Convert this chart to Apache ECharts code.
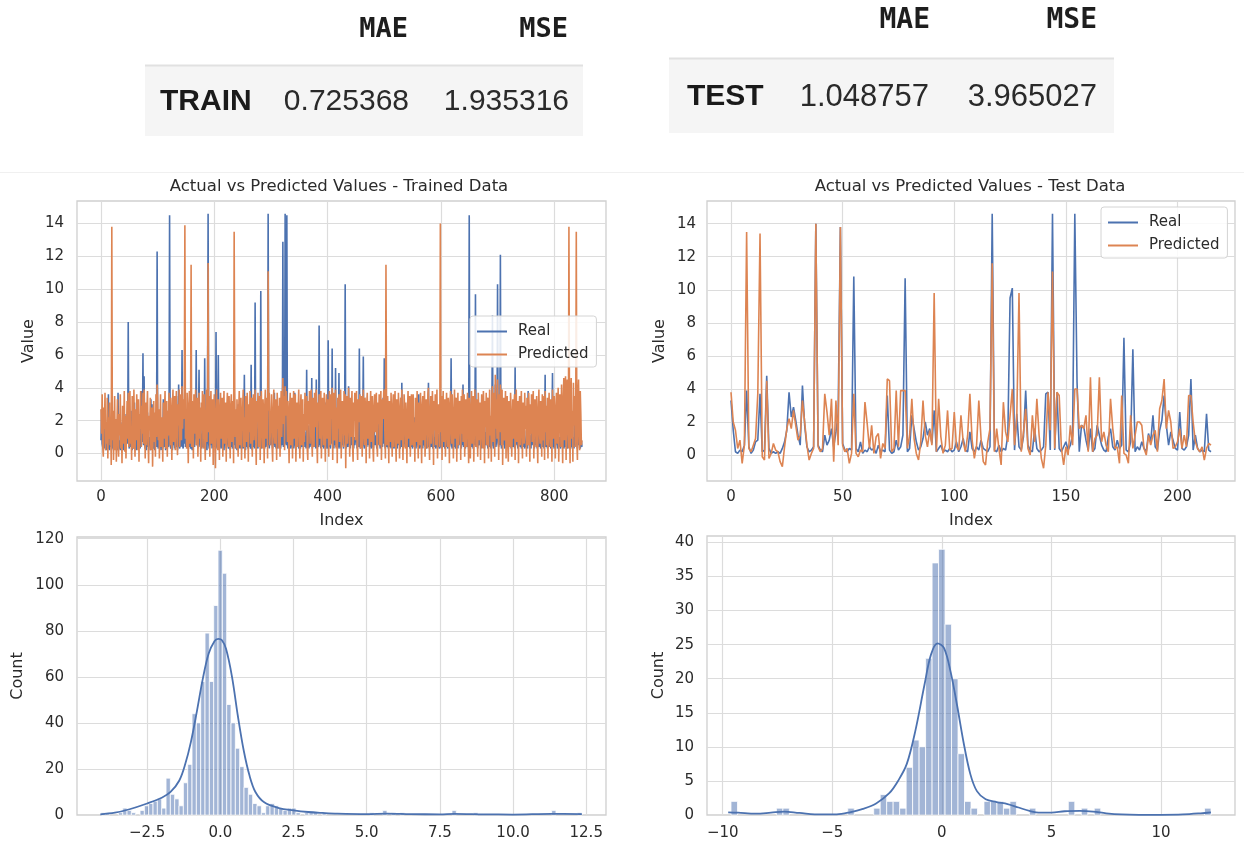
<!DOCTYPE html>
<html>
<head>
<meta charset="utf-8">
<script src="https://cdn.jsdelivr.net/npm/echarts@6.0.0/dist/echarts.min.js"></script>
<style>
  html, body { margin: 0; padding: 0; background: #ffffff; }
  #chart { width: 1244px; height: 848px; }
</style>
</head>
<body>
<div id="chart"></div>
<script>
// ---- error metrics ----
const metricNames = ['MAE', 'MSE'];
const trainMetrics = ['0.725368', '1.935316'];
const testMetrics = ['1.048757', '3.965027'];

// ---- actual vs predicted, training rows (index 0..849) ----
const trainReal = [
0.8,2.7,0.6,0.4,1.2,0.3,0.5,2.2,0.4,0.2,1.1,0.6,0.3,3.6,0.5,0.2,0.9,0.4,1.6,1.2,0.3,0.5,0.2,2.1,0.7,0.4,0.3,1.4,0.6,0.2,3.7,0.5,0.3,0.8,0.2,1.9,0.4,0.6,0.3,1.1,0.2,0.5,2.4,0.7,0.3,0.4,1.3,0.6,8.0,0.5,
0.3,0.9,0.4,2.6,0.6,0.2,1.5,0.5,0.3,3.1,0.8,0.4,0.2,1.2,0.6,0.3,2.2,0.5,0.9,0.3,1.6,0.4,3.8,0.7,6.1,0.5,4.7,0.6,0.3,1.4,0.2,0.8,2.5,0.4,0.3,1.0,0.6,0.2,3.3,0.5,3.0,0.7,0.3,1.2,0.4,0.2,2.0,0.6,0.4,12.3,
0.6,0.3,1.1,0.4,2.3,0.5,0.2,1.7,0.8,0.3,3.3,0.4,0.6,1.2,0.2,0.5,2.6,0.3,0.9,0.4,1.3,14.5,0.6,0.3,1.5,0.4,0.2,2.1,0.5,0.8,0.3,1.1,0.4,3.5,0.6,0.2,0.9,4.2,0.5,0.3,1.6,0.4,0.7,6.3,0.5,0.3,2.4,0.6,4.2,0.4,
0.5,1.3,0.3,2.2,0.6,0.4,3.1,0.7,0.3,1.9,0.5,0.2,1.1,0.6,2.8,0.4,0.3,1.4,6.3,0.5,0.8,0.3,2.0,5.1,0.6,0.4,1.2,0.3,0.7,2.5,0.4,0.9,0.3,5.8,0.5,1.6,0.4,0.2,3.4,14.6,0.6,0.3,1.0,0.5,0.4,2.1,0.3,0.8,0.5,1.5,
0.4,1.2,0.6,7.4,0.5,0.3,1.8,6.0,0.4,0.7,2.3,0.5,0.3,1.1,0.4,3.2,0.6,0.2,0.9,0.5,1.6,0.3,0.4,2.7,0.6,0.3,1.0,0.5,0.2,1.9,0.4,0.7,0.3,1.3,0.5,0.6,2.4,0.3,0.5,1.1,0.2,0.6,3.0,0.4,0.8,0.3,1.5,0.5,0.3,2.2,
0.6,0.3,1.4,4.8,0.5,0.2,1.0,0.4,2.6,0.3,0.7,0.4,1.8,0.5,0.3,5.4,0.6,0.2,1.2,0.4,0.8,0.3,9.2,0.5,0.4,2.3,0.6,0.3,1.5,0.4,0.9,0.5,9.9,0.3,0.6,1.7,0.4,2.8,0.5,0.3,1.1,0.4,0.6,2.2,0.5,14.6,0.8,0.3,1.6,0.5,
0.4,1.3,0.6,0.3,2.1,0.5,3.7,0.4,0.8,0.3,1.5,0.5,0.3,2.4,0.6,0.4,1.0,0.3,0.7,1.9,0.5,12.9,0.4,1.2,0.6,14.6,0.8,0.5,14.5,0.6,0.3,1.6,0.4,0.7,2.5,0.3,0.5,1.1,0.4,0.9,0.3,1.4,3.7,0.5,0.2,1.8,0.6,0.4,1.2,0.3,
0.5,1.1,0.3,0.7,2.0,0.4,0.3,1.4,0.6,1.3,0.4,0.8,0.3,5.1,0.5,0.6,1.7,0.3,0.9,0.4,2.2,0.5,4.6,0.3,0.6,1.2,0.4,0.8,2.7,0.3,4.5,0.6,0.3,1.5,0.4,7.8,0.5,0.9,0.3,1.8,0.4,0.6,2.3,0.3,0.5,1.2,0.4,3.1,0.6,0.3,
0.6,6.9,0.4,1.3,0.5,0.3,2.2,0.6,6.4,0.4,0.8,0.3,1.6,0.5,5.2,0.4,0.7,1.1,0.3,0.5,4.9,0.6,0.3,1.9,0.4,0.8,0.5,2.6,0.3,0.6,1.2,10.3,0.5,0.3,1.5,0.6,0.4,4.1,0.5,0.9,0.3,1.7,0.5,0.4,2.4,0.6,0.3,1.0,0.5,0.4,
0.5,1.4,0.3,0.7,2.1,0.4,6.4,0.5,0.3,1.2,0.6,0.4,1.8,5.9,0.5,0.3,1.0,0.6,2.4,0.4,0.3,1.3,0.5,0.8,0.4,2.0,0.6,0.3,1.5,0.4,0.9,0.3,2.6,0.5,0.4,1.1,0.6,0.3,1.7,0.5,0.4,2.2,0.6,0.3,1.3,0.5,0.8,0.4,3.4,0.6,
5.8,0.5,0.3,1.6,0.4,0.7,1.1,0.3,0.5,2.3,0.4,0.8,0.3,1.4,0.6,0.4,1.9,0.3,0.5,1.0,0.4,2.5,0.6,0.3,1.2,0.5,0.4,1.8,0.3,0.6,0.4,4.3,0.5,0.3,1.3,0.6,0.8,0.4,2.1,0.3,0.5,1.1,0.4,0.7,1.6,0.3,0.5,2.8,0.4,0.6,
0.3,1.3,0.5,0.4,2.2,0.6,0.3,1.0,0.5,0.8,0.4,3.6,0.5,0.3,1.5,0.6,0.4,1.1,0.3,2.0,0.5,0.7,0.4,1.3,0.3,0.6,1.8,0.4,4.3,0.5,0.3,1.2,0.6,0.4,2.4,0.5,0.3,1.0,0.7,0.4,1.6,0.3,0.5,2.1,0.4,0.6,1.2,0.3,0.5,1.4,
0.5,0.3,1.4,0.6,0.4,2.2,0.5,0.3,1.1,0.7,0.4,1.6,0.3,0.5,2.0,0.4,0.6,1.2,5.8,0.5,0.3,1.5,0.6,0.4,2.6,0.5,0.3,1.0,0.4,0.8,0.3,1.9,0.5,0.4,1.2,0.6,0.3,2.3,0.5,4.2,0.4,0.7,1.4,0.3,0.5,2.8,0.4,0.6,1.1,0.3,
14.5,0.5,0.3,1.6,0.4,2.3,0.6,0.3,1.2,0.5,0.8,9.7,0.4,1.4,0.6,0.3,2.1,0.5,0.4,1.0,0.6,0.3,1.8,0.5,0.4,3.2,0.6,0.3,1.3,0.5,0.4,2.4,0.6,0.3,1.1,0.7,0.4,1.9,0.3,0.5,2.6,8.4,0.5,0.3,1.5,0.6,4.2,0.4,0.7,1.2,
10.3,0.6,0.4,1.8,0.5,12.1,0.7,0.3,2.2,0.5,0.4,1.3,0.6,0.3,2.6,0.5,0.4,1.1,0.6,0.3,1.7,0.5,0.4,2.0,0.3,0.6,1.2,0.4,0.5,1.5,0.3,5.3,0.5,0.4,1.4,0.6,0.3,2.3,0.5,0.7,0.4,1.0,0.3,0.6,1.8,0.4,0.5,1.2,0.3,0.6,
0.4,1.4,0.6,0.3,3.8,0.5,0.4,1.1,0.7,0.3,1.6,0.5,0.4,2.2,0.6,0.3,1.0,0.5,0.4,1.8,0.3,0.6,1.3,0.4,0.5,2.5,0.3,0.7,1.1,0.4,0.6,1.7,0.3,0.5,4.8,0.4,0.6,1.2,0.3,0.5,2.0,0.4,0.7,1.3,0.3,0.5,1.6,4.9,0.4,0.6,
0.3,1.2,0.5,0.4,2.1,0.6,0.3,1.5,0.4,0.7,1.0,0.3,0.5,1.8,0.4,0.6,2.4,0.3,0.5,1.1,0.4,0.7,1.6,0.3,0.5,2.2,0.4,0.6,1.3,0.3,0.5,1.9,0.4,0.6,1.0,0.3,2.6,0.5,0.4,1.4,0.6,0.3,1.7,0.5,0.4,2.0,0.3,0.6,0.8,0.4
];
const trainPred = [
2.7,1.2,3.6,0.4,-0.2,2.8,1.5,3.7,0.2,1.9,0.6,3.4,-0.3,2.2,0.9,3.1,0.5,1.7,-0.7,13.8,0.8,2.6,-0.4,1.3,3.5,0.2,2.1,-0.5,1.6,3.3,0.7,-0.2,2.4,1.1,3.6,0.3,1.8,-0.6,2.9,0.6,1.4,3.8,0.1,2.3,-0.3,1.5,3.2,0.9,3.7,0.4,
2.1,3.8,0.6,1.4,-0.4,3.5,2.2,0.3,3.9,1.1,-0.2,2.7,0.8,3.6,1.9,0.2,3.3,-0.5,2.4,1.5,3.8,0.4,2.9,1.2,3.7,0.6,3.9,1.8,-0.3,3.1,0.5,2.6,3.8,0.9,-0.6,2.3,1.4,3.4,0.2,1.7,2.8,-0.8,1.9,3.2,0.7,2.5,-0.2,3.6,1.0,4.2,
3.3,0.8,2.7,-0.3,1.6,3.6,0.4,2.2,1.3,-0.5,3.1,0.9,2.5,3.8,0.3,1.8,3.2,-0.2,2.6,1.1,3.7,2.0,0.5,3.4,1.4,-0.4,2.8,3.9,0.7,1.9,3.5,0.2,2.4,3.8,1.2,-0.1,3.0,1.7,3.9,0.4,2.5,3.6,0.8,4.1,1.5,3.3,2.1,3.8,13.9,0.9,
2.6,0.3,3.7,1.5,-0.6,2.9,3.8,0.6,1.8,11.5,0.4,3.2,2.0,-0.3,3.6,1.2,2.7,3.9,0.5,2.3,3.4,-0.2,1.6,3.7,0.9,2.8,-0.5,3.1,1.4,3.8,0.3,2.5,3.6,1.1,-0.4,2.2,3.9,0.7,2.9,11.6,1.3,3.5,-0.2,2.4,3.8,0.6,1.9,3.3,-0.7,2.7,
3.6,0.8,-0.9,2.5,3.9,1.4,0.2,3.3,2.1,-0.4,2.8,3.7,0.9,1.6,3.4,-0.2,2.3,3.8,0.6,1.9,3.1,-0.5,2.6,3.7,1.2,0.4,3.5,2.0,-0.3,2.9,3.6,0.7,1.8,3.2,-0.6,13.5,3.9,1.0,2.7,0.3,3.3,1.5,-0.2,2.6,3.8,0.5,2.1,3.4,-0.4,1.7,
2.8,3.9,0.4,2.2,-0.3,3.5,1.6,0.7,3.7,2.4,-0.5,3.0,1.3,3.8,0.6,2.7,3.4,-0.2,1.9,3.6,0.8,2.5,3.9,1.1,-0.7,3.2,2.0,3.7,0.4,1.6,3.5,-0.4,2.9,3.8,1.2,0.3,3.3,2.2,-0.6,2.8,3.9,0.9,1.7,3.4,-0.3,11.1,2.6,3.7,0.5,1.4,
2.3,3.6,0.4,-0.5,2.7,3.9,1.2,0.6,3.3,2.1,-0.4,3.7,1.5,2.9,0.3,3.4,-0.2,2.4,3.8,1.0,2.6,4.6,1.8,3.5,0.2,4.1,2.3,3.8,3.0,0.7,3.2,1.4,-0.6,2.8,3.7,0.5,1.9,3.4,-0.3,2.5,3.8,0.9,2.2,3.6,-0.5,1.7,3.1,0.4,2.6,3.9,
1.2,-0.3,2.8,3.6,0.5,1.9,3.3,-0.5,2.4,0.7,3.7,1.4,2.9,3.5,0.3,-0.4,3.2,1.8,3.8,0.6,2.5,3.9,1.1,-0.2,3.4,2.2,0.4,3.7,1.6,2.9,3.9,0.8,-0.6,3.1,2.0,3.6,0.9,2.7,3.8,-0.3,1.5,3.4,2.3,0.5,3.7,1.2,-0.5,2.8,3.6,0.9,
3.3,2.4,-0.2,3.8,1.3,0.5,3.6,2.1,4.0,-0.4,2.6,3.7,0.8,1.9,3.9,0.3,2.8,-0.6,3.4,1.5,3.6,0.7,2.3,3.9,-0.3,1.7,3.2,2.5,0.4,3.8,1.1,3.6,-0.9,2.9,3.5,0.6,1.8,4.0,2.2,-0.2,3.4,1.0,2.7,3.8,0.5,-0.5,3.1,2.0,3.7,0.8,
2.5,3.8,0.6,-0.4,3.3,1.9,2.7,3.6,0.3,1.4,3.5,-0.2,2.2,3.9,1.1,0.5,3.4,2.6,-0.6,3.0,3.7,0.9,1.6,3.2,-0.3,2.4,3.8,0.7,2.0,3.5,0.4,-0.5,2.9,3.6,1.3,2.2,3.7,0.6,-0.2,3.1,1.8,3.6,0.5,2.5,3.8,-0.4,1.2,3.3,2.1,3.7,
3.9,1.4,-0.3,11.5,2.6,0.5,3.5,1.9,-0.6,3.2,2.4,0.7,3.7,1.6,-0.2,2.9,3.6,0.4,2.1,3.8,1.0,-0.5,3.3,2.5,0.6,3.7,1.8,-0.3,2.7,3.4,0.8,3.9,2.2,-0.4,1.5,3.6,2.8,0.3,3.1,1.2,-0.6,2.6,3.8,0.9,2.0,3.5,-0.2,1.7,3.6,0.5,
2.8,3.6,0.4,1.9,-0.5,3.4,2.3,0.7,3.8,1.5,-0.3,3.1,2.6,0.5,3.7,1.2,-0.6,2.9,3.5,0.8,2.2,3.8,-0.2,1.6,3.3,2.5,0.3,3.6,4.0,1.1,-0.4,2.7,3.5,0.6,1.9,3.8,2.1,-0.7,3.2,1.4,3.6,0.5,2.4,3.9,-0.3,1.8,3.0,2.6,0.4,14.0,
1.3,3.5,-0.4,2.6,3.8,0.7,1.9,3.3,-0.2,2.4,3.7,1.0,0.4,3.4,2.2,-0.6,3.0,3.8,1.5,0.6,3.6,2.3,-0.3,1.8,3.9,0.9,2.7,3.4,-0.5,2.1,3.7,0.5,1.6,3.2,2.8,-0.4,3.5,1.2,3.9,0.7,2.4,3.6,-0.2,1.9,3.3,0.4,2.8,3.7,1.0,-0.6,
3.4,1.7,-0.3,2.9,3.8,0.6,2.2,3.5,-0.5,1.4,3.9,2.6,0.4,3.3,1.8,-0.2,3.7,2.4,0.8,3.1,-0.4,2.0,3.6,1.2,0.3,3.8,2.5,-0.6,3.2,1.6,3.7,0.5,2.8,3.4,-0.3,1.9,3.9,1.1,2.3,-0.5,3.5,4.1,0.7,2.6,3.7,-0.2,4.8,1.5,3.3,0.9,
4.5,2.4,-0.4,3.6,1.3,4.2,2.8,0.5,3.9,-0.7,2.1,3.4,0.8,1.7,3.8,-0.3,2.6,3.5,0.6,-0.5,3.2,1.9,0.4,3.7,2.5,-0.2,1.4,3.3,0.9,2.8,3.6,-0.4,2.2,3.9,0.7,1.6,3.2,-0.6,2.7,3.5,0.5,2.0,3.8,1.2,-0.3,3.1,2.4,0.6,3.7,1.5,
2.9,-0.2,3.4,1.8,0.5,3.7,2.3,-0.5,3.0,1.2,3.6,0.7,2.6,3.8,-0.3,1.5,3.3,2.1,0.4,3.5,1.0,-0.6,2.7,3.9,1.4,0.6,3.2,2.4,-0.2,3.6,0.8,2.0,3.5,-0.4,3.8,1.3,2.9,0.5,3.4,-0.3,2.2,3.7,1.1,0.4,3.3,2.6,-0.5,3.9,1.7,0.9,
3.5,1.6,-0.3,2.8,3.7,0.6,2.2,4.0,-0.5,1.9,3.6,2.5,0.4,4.2,1.3,-0.6,3.4,4.6,0.8,2.7,4.7,-0.4,3.1,4.5,1.5,0.3,13.8,2.4,-0.6,3.8,4.6,0.9,2.6,-0.5,4.3,1.7,3.5,0.4,2.1,13.5,0.7,-0.4,3.6,4.5,1.2,0.2,3.8,2.4,0.5,0.8
];

// ---- actual vs predicted, test rows (index 0..215) ----
const testReal = [
3.3,1.5,0.2,0.1,0.3,0.2,0.6,3.9,0.5,0.1,0.3,0.8,0.9,3.7,0.2,0.3,4.8,0.4,0.1,0.2,
0.1,0.2,0.1,0.4,0.8,1.5,3.8,2.3,2.9,2.1,1.2,0.6,4.2,1.8,0.5,0.2,0.3,0.5,14.0,0.6,
0.3,0.2,1.2,0.6,0.9,1.6,0.5,1.4,2.5,13.8,0.7,0.3,0.2,0.4,0.3,10.8,0.4,0.2,0.8,0.1,
0.3,0.2,0.5,0.3,0.4,0.1,0.6,0.2,0.3,0.2,3.6,0.3,0.1,0.2,0.9,0.3,0.5,1.2,10.7,0.2,
0.4,2.4,1.6,0.8,0.3,0.5,1.0,2.0,1.2,1.6,0.7,2.7,0.2,0.4,0.6,0.2,0.3,0.2,0.4,0.2,
0.3,0.8,0.2,0.5,1.0,0.3,0.2,1.4,0.4,0.2,0.5,0.3,0.9,0.4,0.3,0.2,0.5,14.6,0.3,0.2,
0.6,0.2,0.4,0.3,1.2,9.5,10.1,0.3,2.5,0.5,0.3,1.1,3.9,0.6,0.3,0.2,1.6,0.4,0.2,0.3,
0.5,3.7,3.8,0.3,14.6,0.3,3.8,0.4,0.2,0.5,0.8,0.3,0.6,1.2,14.6,4.4,0.2,1.8,1.7,0.9,
0.3,1.6,0.2,0.4,1.8,1.2,0.6,0.3,0.2,1.1,1.6,0.5,0.3,0.9,0.4,0.6,7.1,0.3,0.2,0.8,
6.4,0.2,0.5,0.3,0.8,0.4,0.2,1.3,0.8,2.4,0.5,0.3,1.5,2.1,3.6,1.8,0.6,1.4,0.9,0.4,
0.3,2.6,0.4,0.3,0.5,1.2,4.6,0.3,1.2,0.4,0.2,0.3,0.2,2.5,0.3,0.2
];
const testPred = [
3.8,2.0,1.5,0.4,0.9,-0.5,0.6,13.5,0.4,0.2,0.6,1.0,3.7,13.4,-0.1,-0.3,4.5,-0.2,0.1,0.7,
0.3,0.2,-0.4,-0.7,0.5,1.6,2.2,1.6,2.7,1.8,0.9,1.2,3.3,2.0,0.6,-0.3,0.1,0.4,14.0,0.5,
0.2,0.4,3.7,2.6,1.2,3.4,-0.4,3.3,0.6,13.8,0.6,0.2,0.4,-0.5,0.1,3.7,0.1,-0.1,0.3,0.2,
3.2,1.9,0.4,1.8,0.1,1.1,1.3,-0.2,0.7,0.4,4.6,4.5,0.2,0.4,3.9,0.5,3.9,3.9,3.9,0.4,
1.2,3.4,1.0,0.1,-0.3,0.8,3.3,1.2,0.5,1.5,0.6,9.8,0.2,3.4,1.1,0.1,0.6,2.7,0.3,0.4,
2.6,0.5,0.3,2.4,0.8,0.2,1.2,3.7,0.9,-0.2,0.6,3.3,1.0,-0.4,-0.6,0.8,1.6,11.6,0.2,1.6,
0.4,-0.6,3.2,1.4,0.8,2.4,4.0,0.6,2.2,9.8,0.2,1.4,2.8,0.4,0.0,2.4,0.8,3.4,1.2,-0.2,
-0.8,0.6,3.8,1.5,11.1,0.4,3.8,3.6,0.4,-0.6,0.5,0.0,1.8,0.6,4.0,4.0,1.6,1.8,1.6,2.4,
0.2,4.7,0.2,1.0,1.2,4.7,0.8,1.4,0.6,0.2,3.4,1.6,0.4,0.5,-0.5,3.6,0.1,0.0,-0.5,2.4,
0.4,1.2,2.0,2.0,1.8,0.4,0.0,1.2,0.6,1.2,1.5,0.2,2.8,3.3,4.6,1.6,2.7,2.0,0.4,0.5,
0.8,1.6,0.4,1.2,0.5,3.6,3.6,2.0,0.8,0.4,0.2,0.5,-0.3,0.4,0.7,0.6
];

// ---- residual histograms ----
const trainBinStart = -4.074;
const trainBinWidth = 0.148;
const trainCounts = [
1,1,0,0,1,3,2,1,0,2, 4,5,6,7,3,16,9,7,4,14,
22,44,40,58,79,58,91,115,105,48, 40,29,21,12,9,5,4,1,4,5,
4,3,2,3,3,1,0,1,1,1, 0,1,0,0,0,0,0,0,0,0,
0,0,1,0,0,2,0,1,0,1, 0,0,0,0,0,0,0,0,0,0,
0,2,0,0,0,0,1,0,0,0, 0,0,0,0,0,0,0,0,0,0,
0,0,0,0,2,0,0,0,0,0, 1
];
const trainKde = [
[-4.1,0.3],[-3.6,1.0],[-3.1,2.5],[-2.5,5.0],[-2.0,7.5],[-1.7,10],[-1.4,15],[-1.2,22],[-1.0,32],
[-0.8,45],[-0.6,59],[-0.4,70],[-0.2,75.5],[-0.07,76.5],[0.05,76],[0.2,72],[0.4,60],[0.6,43],
[0.8,28],[1.0,17],[1.2,10],[1.5,5.5],[2.0,3.0],[2.5,2.0],[3.0,1.3],[3.5,0.9],[4.0,0.6],[5.0,0.4],
[5.7,0.6],[6.5,0.4],[7.5,0.3],[8.0,0.5],[9.0,0.3],[10.0,0.2],[11.3,0.5],[12.35,0.4]
];
const testBinStart = -9.622;
const testBinWidth = 0.296;
const testCounts = [
2,0,0,0,0,0,0,1,1,0, 0,0,0,0,0,0,0,0,1,0,
0,0,1,3,2,2,1,7,11,10, 23,37,39,28,20,9,2,1,0,2,
2,2,1,2,0,0,1,0,0,0, 0,0,2,0,1,0,1,0,0,0,
0,0,0,0,0,0,0,0,0,0, 0,0,0,1
];
const testKde = [
[-9.75,0.4],[-9.3,0.35],[-8.5,0.2],[-7.8,0.35],[-7.2,0.5],[-6.5,0.3],[-5.5,0.08],[-4.8,0.1],
[-4.2,0.4],[-3.6,0.9],[-3.0,1.7],[-2.4,3.2],[-2.0,5.0],[-1.6,7.5],[-1.2,12.5],[-0.8,19],
[-0.5,23.5],[-0.2,25.2],[0.1,24.5],[0.4,21],[0.7,16],[1.0,10.5],[1.3,6.0],[1.6,3.5],[2.0,2.3],
[2.5,1.9],[3.0,1.6],[3.5,1.1],[4.0,0.6],[4.5,0.35],[5.0,0.35],[5.6,0.55],[6.3,0.6],[6.9,0.5],
[7.5,0.25],[8.2,0.08],[9.0,0.03],[10.0,0.03],[11.0,0.08],[11.8,0.25],[12.28,0.4]
];

// ---- tick values ----
const trainIndexTicks = [0, 200, 400, 600, 800];
const testIndexTicks = [0, 50, 100, 150, 200];
const valueTicks = [0, 2, 4, 6, 8, 10, 12, 14];
const trainResidTicks = [-2.5, 0, 2.5, 5, 7.5, 10, 12.5];
const trainCountTicks = [0, 20, 40, 60, 80, 100, 120];
const testResidTicks = [-10, -5, 0, 5, 10];
const testCountTicks = [0, 5, 10, 15, 20, 25, 30, 35, 40];

// ---- styling ----
const BLUE = '#4c72b0';
const ORANGE = '#dd8452';
const INK = '#2b2b2b';
const SANS = '"DejaVu Sans", sans-serif';
const MINUS = '\u2212';

// data limits padded 5% on each side, as the plotting defaults do
function padded(lo, hi) {
  const m = (hi - lo) * 0.05;
  return [lo - m, hi + m];
}
const trainY = padded(Math.min(...trainReal, ...trainPred), Math.max(...trainReal, ...trainPred));
const testY = padded(Math.min(...testReal, ...testPred), Math.max(...testReal, ...testPred));
const trainX = padded(0, trainReal.length - 1);
const testX = padded(0, testReal.length - 1);
const trainHX = padded(trainBinStart, trainBinStart + trainCounts.length * trainBinWidth);
const testHX = padded(testBinStart, testBinStart + testCounts.length * testBinWidth);
const trainHYMax = Math.max(...trainCounts) * 1.05;
const testHYMax = Math.max(...testCounts) * 1.05;

const minusFmt = v => String(v).replace('-', MINUS);
const oneDecFmt = v => v.toFixed(1).replace('-', MINUS);

function axis(gridIndex, range, ticks, fmt, margin, extra) {
  return Object.assign({
    type: 'value',
    gridIndex: gridIndex,
    min: range[0],
    max: range[1],
    axisLine: { show: false },
    axisTick: { show: false, customValues: ticks },
    axisLabel: {
      customValues: ticks,
      formatter: fmt,
      color: INK,
      fontFamily: SANS,
      fontSize: 15,
      margin: margin
    },
    splitLine: { show: true, lineStyle: { color: '#dcdcdc', width: 1.2 } },
    nameTextStyle: { color: INK, fontFamily: SANS, fontSize: 16 }
  }, extra || {});
}

function histData(start, width, counts) {
  return counts
    .map((c, k) => [start + k * width, start + (k + 1) * width, c])
    .filter(d => d[2] > 0);
}

function renderBin(params, api) {
  const lo = api.coord([api.value(0), api.value(2)]);
  const hi = api.coord([api.value(1), 0]);
  return {
    type: 'rect',
    shape: { x: lo[0], y: lo[1], width: hi[0] - lo[0], height: hi[1] - lo[1] },
    style: { fill: 'rgba(76,114,176,0.52)', stroke: '#ffffff', lineWidth: 0.8 }
  };
}

function lineSeries(name, xi, values, color) {
  return {
    type: 'line', name: name, xAxisIndex: xi, yAxisIndex: xi,
    data: values.map((v, i) => [i, v]),
    showSymbol: false, symbol: 'none', sampling: null,
    color: color,
    lineStyle: { color: color, width: 1.6 },
    emphasis: { disabled: true }
  };
}

function text(x, y, str, font, align, fill) {
  return {
    type: 'text', x: x, y: y, silent: true,
    style: {
      text: str, font: font, fill: fill || INK,
      align: align, verticalAlign: 'middle',
      textAlign: align, textVerticalAlign: 'middle'
    }
  };
}

const headFont = 'bold 27px "DejaVu Sans Mono", monospace';
const rowHeadFont = 'bold 30px "Liberation Sans", Arial, sans-serif';
const cellFont = '30px "Liberation Sans", Arial, sans-serif';
const titleFont = '16.5px ' + SANS;

const legendBase = {
  orient: 'vertical',
  data: ['Real', 'Predicted'],
  icon: 'rect',
  itemWidth: 30,
  itemHeight: 2,
  itemGap: 8,
  padding: [8, 8, 5, 7],
  backgroundColor: 'rgba(255,255,255,0.85)',
  borderColor: '#d4d4d4',
  borderWidth: 1,
  borderRadius: 3,
  selectedMode: false,
  textStyle: { color: INK, fontFamily: SANS, fontSize: 15, padding: [0, 0, 0, 6] }
};

const option = {
  animation: false,
  backgroundColor: '#ffffff',
  graphic: [
    // metric tables
    { type: 'rect', shape: { x: 145, y: 65, width: 438, height: 71 }, style: { fill: '#f5f5f5' } },
    { type: 'line', shape: { x1: 145, y1: 65.5, x2: 583, y2: 65.5 }, style: { stroke: '#e1e1e1', lineWidth: 2 } },
    text(408, 30, metricNames[0], headFont, 'right', '#1e1e1e'),
    text(568, 30, metricNames[1], headFont, 'right', '#1e1e1e'),
    text(160, 102, 'TRAIN', rowHeadFont, 'left', '#1a1a1a'),
    text(409, 102, trainMetrics[0], cellFont, 'right', '#2a2a2a'),
    text(569, 102, trainMetrics[1], cellFont, 'right', '#2a2a2a'),

    { type: 'rect', shape: { x: 669, y: 58, width: 445, height: 75 }, style: { fill: '#f5f5f5' } },
    { type: 'line', shape: { x1: 669, y1: 58.5, x2: 1114, y2: 58.5 }, style: { stroke: '#e1e1e1', lineWidth: 2 } },
    text(930, 21, metricNames[0], 'bold 28px "DejaVu Sans Mono", monospace', 'right', '#1e1e1e'),
    text(1097, 21, metricNames[1], 'bold 28px "DejaVu Sans Mono", monospace', 'right', '#1e1e1e'),
    text(687, 97, 'TEST', rowHeadFont, 'left', '#1a1a1a'),
    text(929, 97, testMetrics[0], '31px "Liberation Sans", Arial, sans-serif', 'right', '#2a2a2a'),
    text(1097, 97, testMetrics[1], '31px "Liberation Sans", Arial, sans-serif', 'right', '#2a2a2a'),

    { type: 'line', shape: { x1: 0, y1: 172.5, x2: 1244, y2: 172.5 }, style: { stroke: '#f0f0f0', lineWidth: 1 } },

    // chart titles
    text(339, 187, 'Actual vs Predicted Values - Trained Data', titleFont, 'center'),
    text(970, 187, 'Actual vs Predicted Values - Test Data', titleFont, 'center')
  ],
  grid: [
    { left: 77, top: 201, width: 529, height: 280, show: true, borderColor: '#cfcfcf', borderWidth: 1.3 },
    { left: 707, top: 201, width: 528, height: 280, show: true, borderColor: '#cfcfcf', borderWidth: 1.3 },
    { left: 77, top: 537, width: 529, height: 278, show: true, borderColor: '#cfcfcf', borderWidth: 1.3 },
    { left: 707, top: 536, width: 528, height: 279, show: true, borderColor: '#cfcfcf', borderWidth: 1.3 }
  ],
  xAxis: [
    axis(0, trainX, trainIndexTicks, minusFmt, 9, { name: 'Index', nameLocation: 'middle', nameGap: 32 }),
    axis(1, testX, testIndexTicks, minusFmt, 9, { name: 'Index', nameLocation: 'middle', nameGap: 32 }),
    axis(2, trainHX, trainResidTicks, oneDecFmt, 11),
    axis(3, testHX, testResidTicks, minusFmt, 11)
  ],
  yAxis: [
    axis(0, trainY, valueTicks, minusFmt, 13, { name: 'Value', nameLocation: 'middle', nameGap: 40, nameRotate: 90 }),
    axis(1, testY, valueTicks, minusFmt, 11, { name: 'Value', nameLocation: 'middle', nameGap: 39, nameRotate: 90 }),
    axis(2, [0, trainHYMax], trainCountTicks, minusFmt, 13, { name: 'Count', nameLocation: 'middle', nameGap: 51, nameRotate: 90 }),
    axis(3, [0, testHYMax], testCountTicks, minusFmt, 13, { name: 'Count', nameLocation: 'middle', nameGap: 40, nameRotate: 90 })
  ],
  legend: [
    Object.assign({}, legendBase, { left: 470, top: 316 }),
    Object.assign({}, legendBase, { left: 1101, top: 207 })
  ],
  series: [
    lineSeries('Real', 0, trainReal, BLUE),
    lineSeries('Predicted', 0, trainPred, ORANGE),
    lineSeries('Real', 1, testReal, BLUE),
    lineSeries('Predicted', 1, testPred, ORANGE),
    {
      type: 'custom', name: 'Train residuals', xAxisIndex: 2, yAxisIndex: 2,
      renderItem: renderBin, encode: { x: [0, 1], y: 2 },
      data: histData(trainBinStart, trainBinWidth, trainCounts), z: 2
    },
    {
      type: 'line', name: 'Train density', xAxisIndex: 2, yAxisIndex: 2,
      data: trainKde, smooth: 0.35, showSymbol: false, symbol: 'none',
      lineStyle: { color: BLUE, width: 1.8 }, color: BLUE, z: 3
    },
    {
      type: 'custom', name: 'Test residuals', xAxisIndex: 3, yAxisIndex: 3,
      renderItem: renderBin, encode: { x: [0, 1], y: 2 },
      data: histData(testBinStart, testBinWidth, testCounts), z: 2
    },
    {
      type: 'line', name: 'Test density', xAxisIndex: 3, yAxisIndex: 3,
      data: testKde, smooth: 0.35, showSymbol: false, symbol: 'none',
      lineStyle: { color: BLUE, width: 1.8 }, color: BLUE, z: 3
    }
  ]
};

const chart = echarts.init(document.getElementById('chart'));
chart.setOption(option);
</script>
</body>
</html>
